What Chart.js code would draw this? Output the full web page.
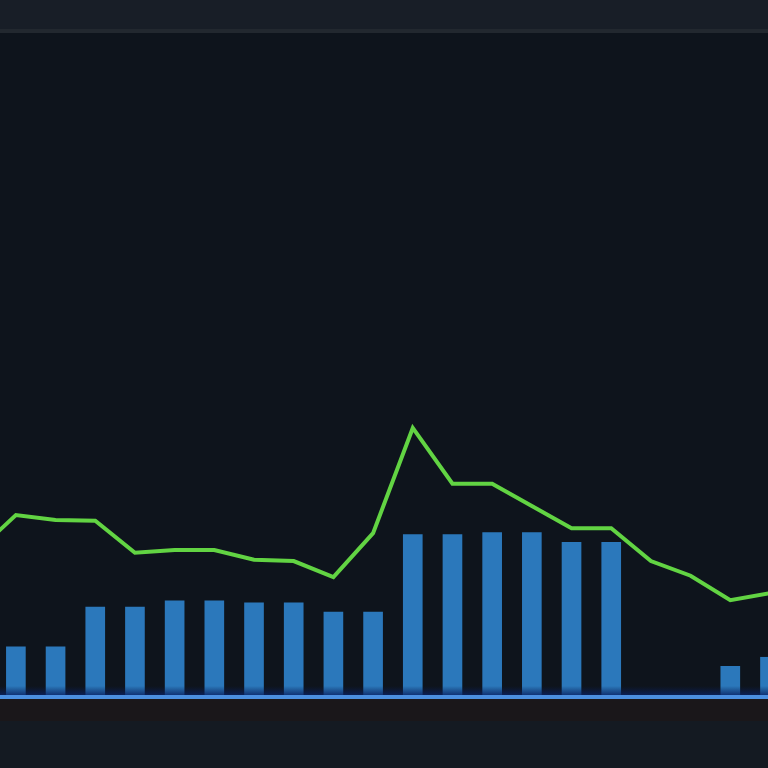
<!doctype html>
<html lang="en">
<head>
  <meta charset="utf-8">
  <title>Bars and line</title>
  <script src="https://cdn.jsdelivr.net/npm/chart.js@4.4.1/dist/chart.umd.min.js"></script>
  <style>
    html, body { margin: 0; padding: 0; background: #0e141c; }
    #wrap { width: 768px; height: 768px; }
  </style>
</head>
<body>
<div id="wrap"><canvas id="myChart" width="768" height="768"></canvas></div>
<script>
// slot index on the x axis (the view is cropped, slot -1 only shows as the line entering)
var lineSlots = [-1, 0, 1, 2, 3, 4, 5, 6, 7, 8, 9, 10, 11, 12, 13, 14, 15, 16, 17, 18, 19]
var lineValues = [20.8, 26.1, 25.4, 25.3, 20.7, 21.1, 21.1, 19.7, 19.5, 17.2, 23.5, 38.6, 30.6, 30.6, 27.4, 24.2, 24.2, 19.5, 17.4, 13.9, 14.9]

var barSlots = [0, 1, 2, 3, 4, 5, 6, 7, 8, 9, 10, 11, 12, 13, 14, 15, 16, 17, 18, 19]
var barValues = [7.2, 7.2, 12.9, 12.9, 13.8, 13.8, 13.5, 13.5, 12.2, 12.2, 23.3, 23.3, 23.6, 23.6, 22.2, 22.2, null, null, 4.4, 5.7]

function pairs(xs, ys) {
  var out = []
  for (var i = 0; i < xs.length; i++) out.push({ x: xs[i], y: ys[i] })
  return out
}

// background bands and the blue base line
var frame = {
  id: 'frame',
  beforeDraw: function (chart) {
    var c = chart.ctx, w = chart.width, h = chart.height
    c.save()
    c.fillStyle = '#0e141c'
    c.fillRect(0, 0, w, h)
    c.fillStyle = '#181e27'
    c.fillRect(0, 0, w, 29)
    c.fillStyle = '#22282f'
    c.fillRect(0, 29, w, 4)
    c.fillStyle = '#1a171a'
    c.fillRect(0, 699, w, 22)
    c.fillStyle = '#141a22'
    c.fillRect(0, 721, w, h - 721)
    c.restore()
  },
  afterDatasetsDraw: function (chart) {
    var c = chart.ctx, w = chart.width
    c.save()
    var g = c.createLinearGradient(0, 686, 0, 695)
    g.addColorStop(0, 'rgba(10,30,80,0)')
    g.addColorStop(1, 'rgba(10,34,100,0.8)')
    c.fillStyle = g
    c.fillRect(0, 686, w, 9)
    c.fillStyle = '#4b8fe0'
    c.fillRect(0, 695, w, 4)
    c.restore()
  }
}

var ctx = document.getElementById('myChart').getContext('2d')
var chart = new Chart(ctx, {
  type: 'bar',
  data: {
    datasets: [
      {
        type: 'line',
        data: pairs(lineSlots, lineValues),
        borderColor: '#62d443',
        borderWidth: 4,
        pointRadius: 0,
        tension: 0,
        fill: false,
        order: 0
      },
      {
        type: 'bar',
        data: pairs(barSlots, barValues),
        backgroundColor: '#2b78bb',
        barThickness: 19,
        order: 1
      }
    ]
  },
  plugins: [frame],
  options: {
    responsive: false,
    animation: false,
    layout: { padding: { left: 0, right: 0, top: 0, bottom: 71 } },
    plugins: { legend: { display: false }, tooltip: { enabled: false } },
    scales: {
      x: { type: 'linear', min: -0.4, max: 18.95, offset: false, bounds: 'ticks', display: false },
      y: { min: 0, max: 100, display: false }
    }
  }
})
</script>
</body>
</html>
